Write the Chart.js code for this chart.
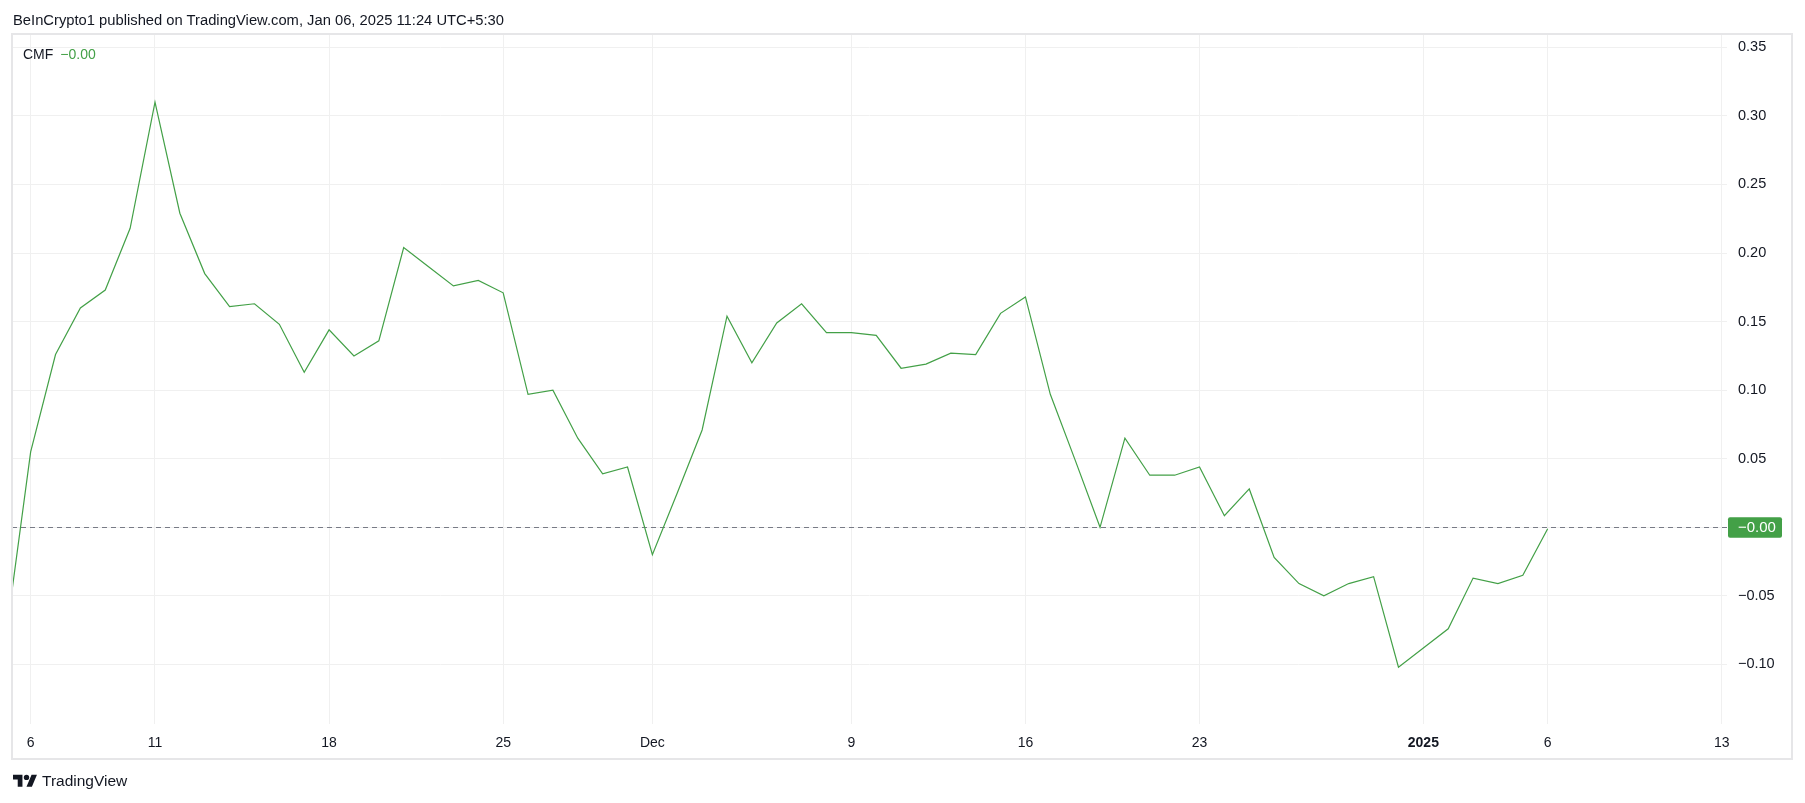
<!DOCTYPE html>
<html>
<head>
<meta charset="utf-8">
<title>CMF</title>
<script src="https://cdn.jsdelivr.net/npm/chart.js@4.4.1/dist/chart.umd.min.js"></script>
<style>
  html, body { margin: 0; padding: 0; background: #fff; }
  #wrap { position: relative; width: 1805px; height: 803px; overflow: hidden; }
  #cmfChart { position: absolute; left: 0; top: 0; }
  .txt { position: absolute; font-family: "Liberation Sans", Arial, sans-serif; color: #131722; white-space: nowrap; }
  #header { left: 13px; top: 12px; font-size: 14.75px; }
  #legend { left: 23px; top: 46px; font-size: 14px; }
  #legend span { color: #43a047; margin-left: 7px; }
  #footer { left: 13px; top: 772px; font-size: 15.5px; }
  #footer svg { position: absolute; left: 0; top: 0; }
  #footer b { position: absolute; left: 29px; top: 0; font-weight: normal; }
</style>
</head>
<body>
<div id="wrap">
  <canvas id="cmfChart" width="1805" height="803"></canvas>
  <div class="txt" id="header">BeInCrypto1 published on TradingView.com, Jan 06, 2025 11:24 UTC+5:30</div>
  <div class="txt" id="legend">CMF<span>−0.00</span></div>
  <div class="txt" id="footer">
    <svg width="24.3" height="18.9" viewBox="0 0 36 28"><path fill="#131722" d="M14 22H7V11H0V4h14v18zM28 22h-8l7.5-18h8L28 22z"/><circle fill="#131722" cx="20" cy="8" r="4"/></svg>
    <b>TradingView</b>
  </div>
</div>
<script>
// daily CMF readings, Nov 5 2024 .. Jan 6 2025
const dates = [
  "2024-11-05", "2024-11-06", "2024-11-07", "2024-11-08", "2024-11-09", "2024-11-10", "2024-11-11",
  "2024-11-12", "2024-11-13", "2024-11-14", "2024-11-15", "2024-11-16", "2024-11-17", "2024-11-18",
  "2024-11-19", "2024-11-20", "2024-11-21", "2024-11-22", "2024-11-23", "2024-11-24", "2024-11-25",
  "2024-11-26", "2024-11-27", "2024-11-28", "2024-11-29", "2024-11-30", "2024-12-01", "2024-12-02",
  "2024-12-03", "2024-12-04", "2024-12-05", "2024-12-06", "2024-12-07", "2024-12-08", "2024-12-09",
  "2024-12-10", "2024-12-11", "2024-12-12", "2024-12-13", "2024-12-14", "2024-12-15", "2024-12-16",
  "2024-12-17", "2024-12-18", "2024-12-19", "2024-12-20", "2024-12-21", "2024-12-22", "2024-12-23",
  "2024-12-24", "2024-12-25", "2024-12-26", "2024-12-27", "2024-12-28", "2024-12-29", "2024-12-30",
  "2024-12-31", "2025-01-01", "2025-01-02", "2025-01-03", "2025-01-04", "2025-01-05", "2025-01-06"
]
const cmf = [
  -0.080, 0.055, 0.126, 0.160, 0.173, 0.218, 0.310,
  0.229, 0.185, 0.161, 0.163, 0.148, 0.113, 0.144,
  0.125, 0.136, 0.204, 0.190, 0.176, 0.180, 0.171,
  0.097, 0.100, 0.065, 0.039, 0.044, -0.020, 0.025,
  0.071, 0.154, 0.120, 0.149, 0.163, 0.142, 0.142,
  0.140, 0.116, 0.119, 0.127, 0.126, 0.156, 0.168,
  0.097, 0.049, 0.000, 0.065, 0.038, 0.038, 0.044,
  0.0085, 0.028, -0.022, -0.041, -0.050, -0.041, -0.036,
  -0.102, -0.088, -0.074, -0.037, -0.041, -0.035, -0.001
]
const tickDates = ["2024-11-06", "2024-11-11", "2024-11-18", "2024-11-25", "2024-12-01", "2024-12-09",
  "2024-12-16", "2024-12-23", "2025-01-01", "2025-01-06", "2025-01-13"]
const tickLabels = ["6", "11", "18", "25", "Dec", "9", "16", "23", "2025", "6", "13"]
const priceTicks = [-0.10, -0.05, 0, 0.05, 0.10, 0.15, 0.20, 0.25, 0.30, 0.35]
const lastValue = "−0.00"

const GREEN = "#43a047"
const TEXT = "#131722"
const GRID = "#f0f0f0"
const FONT = "'Liberation Sans', Arial, sans-serif"

const dayOf = d => (Date.parse(d) - Date.parse(dates[0])) / 864e5
const tickDays = tickDates.map(dayOf)
const fmt = v => (v < 0 ? "−" : "") + Math.abs(v).toFixed(2)

const zeroLine = {
  id: "zeroLine",
  beforeDatasetsDraw(chart) {
    const { ctx, chartArea } = chart
    const y = Math.round(chart.scales.y.getPixelForValue(0)) + 0.5
    ctx.save()
    ctx.strokeStyle = "#787b86"
    ctx.lineWidth = 1
    ctx.setLineDash([5, 4])
    ctx.beginPath()
    ctx.moveTo(chartArea.left, y)
    ctx.lineTo(chartArea.right, y)
    ctx.stroke()
    ctx.restore()
  },
  afterDraw(chart) {
    const { ctx, chartArea, scales } = chart
    // panel frame
    ctx.save()
    ctx.strokeStyle = "#e6e6e8"
    ctx.lineWidth = 2
    ctx.strokeRect(chartArea.left, chartArea.top, scales.y.right - chartArea.left, scales.x.bottom - chartArea.top)
    // last value tag on the price axis
    const y = scales.y.getPixelForValue(0)
    ctx.fillStyle = GREEN
    ctx.beginPath()
    ctx.roundRect(chartArea.right + 1, y - 10, 54, 20.5, 2)
    ctx.fill()
    ctx.fillStyle = "#fff"
    ctx.font = "15px " + FONT
    ctx.textAlign = "left"
    ctx.textBaseline = "middle"
    ctx.fillText(lastValue, chartArea.right + 11, y + 1)
    ctx.restore()
  }
}

new Chart(document.getElementById("cmfChart"), {
  type: "line",
  data: {
    datasets: [{
      label: "CMF",
      data: cmf.map((v, i) => ({ x: dayOf(dates[i]), y: v })),
      borderColor: GREEN,
      borderWidth: 1.2,
      pointRadius: 0,
      tension: 0,
      fill: false
    }]
  },
  options: {
    responsive: false,
    animation: false,
    events: [],
    layout: { padding: { left: 12, top: 34, right: 13, bottom: 44 } },
    plugins: { legend: { display: false }, tooltip: { enabled: false } },
    scales: {
      x: {
        type: "linear",
        position: "bottom",
        min: 0.25,
        max: 69.21,
        afterBuildTicks: s => { s.ticks = tickDays.map(v => ({ value: v })) },
        afterFit: s => { s.height = 35 },
        border: { display: false },
        grid: { color: GRID, drawTicks: false },
        ticks: {
          autoSkip: false,
          maxRotation: 0,
          padding: 11,
          color: TEXT,
          font: c => ({ family: FONT, size: 14, weight: tickLabels[c.index] === "2025" ? "bold" : "normal" }),
          callback: (v, i) => tickLabels[i]
        }
      },
      y: {
        type: "linear",
        position: "right",
        min: -0.1434,
        max: 0.3597,
        afterBuildTicks: s => { s.ticks = priceTicks.map(v => ({ value: v })) },
        afterFit: s => { s.width = 65 },
        border: { display: false },
        grid: { color: GRID, drawTicks: false },
        ticks: {
          padding: 11,
          color: TEXT,
          font: { family: FONT, size: 14.5 },
          callback: v => (v === 0 ? "" : fmt(v))
        }
      }
    }
  },
  plugins: [zeroLine]
})
</script>
</body>
</html>
